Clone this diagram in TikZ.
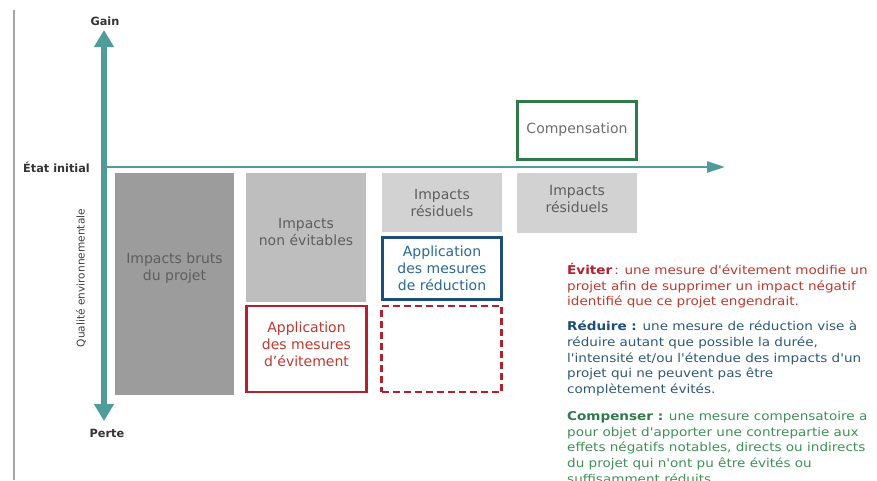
\documentclass[tikz,border=0pt]{standalone}
\usepackage{fontspec}
\setmainfont{DejaVu Sans}
\newfontfamily\deffont[FakeStretch=1.12]{DejaVu Sans}
\usetikzlibrary{arrows.meta}
\definecolor{axisc}{HTML}{4F9C9A}
\definecolor{dgray}{HTML}{9C9C9C}
\definecolor{mgray}{HTML}{BEBEBE}
\definecolor{lgray}{HTML}{D2D2D2}
\definecolor{boxtxt}{HTML}{5E5E5E}
\definecolor{redc}{HTML}{B3202E}
\definecolor{redt}{HTML}{C0392F}
\definecolor{bluec}{HTML}{1D4E78}
\definecolor{bluet}{HTML}{2A6996}
\definecolor{greenc}{HTML}{2F7A4A}
\definecolor{greent}{HTML}{3F9155}
\definecolor{bluebody}{HTML}{2E5A7A}
\begin{document}
\begin{tikzpicture}[x=1pt,y=-1pt,
  lbl/.style={font=\fontsize{14}{17}\selectfont, text=boxtxt, align=center, inner sep=0pt},
  graybox/.style={rectangle, inner sep=0pt, draw=none},
  framebox/.style={rectangle, inner sep=0pt, fill=white, line width=2.6pt},
  axislab/.style={font=\fontsize{11.3}{12}\selectfont\bfseries, text=black!80, inner sep=0pt},
  defs/.style={font=\deffont\fontsize{12.1}{15.7}\selectfont, align=left, anchor=north west, inner sep=0pt}
]
\useasboundingbox (0,0) rectangle (877,480);
\fill[white] (0,0) rectangle (877,480);
% left frame line
\coordinate (lt) at (14,10);
\coordinate (lb) at (14,480);
\draw[black!35, line width=1.5pt] (lt) -- (lb);

% gray boxes
\node[graybox, fill=dgray, minimum width=119pt, minimum height=222pt] (b1) at (174.5,284) {};
\node[lbl] at (174.5,268.5) {Impacts bruts\\du projet};
\node[graybox, fill=mgray, minimum width=120pt, minimum height=129pt] (b2) at (306,237.5) {};
\node[lbl] at (306,231.5) {Impacts\\non évitables};
\node[graybox, fill=lgray, minimum width=120pt, minimum height=59pt] (b4) at (442,202.5) {};
\node[lbl] at (442,202.5) {Impacts\\résiduels};
\node[graybox, fill=lgray, minimum width=120pt, minimum height=60pt] (b7) at (577,203) {};
\node[lbl] at (577,198.5) {Impacts\\résiduels};

% framed boxes
\node[framebox, draw=redc, minimum width=120pt, minimum height=86pt] (b3) at (306.5,349) {};
\node[lbl, text=redt] at (306.5,344.5) {Application\\des mesures\\d'évitement};
\node[framebox, draw=bluec, minimum width=119pt, minimum height=62pt] (b5) at (442,268.5) {};
\node[lbl, text=bluet] at (442,268) {Application\\des mesures\\de réduction};
\node[framebox, draw=redc, dash pattern=on 7pt off 4pt, minimum width=120pt, minimum height=86pt] (b6) at (441.5,349) {};
\node[framebox, draw=greenc, minimum width=119pt, minimum height=58pt] (b8) at (577,130.5) {};
\node[lbl, text=boxtxt!90] at (577,130) {Compensation};

% axes
\coordinate (o) at (104,167);
\coordinate (htip) at (725,167);
\coordinate (vtop) at (104,30);
\coordinate (vbot) at (104,421);
\draw[axisc, line width=2.6pt, -{Triangle[length=18pt,width=11pt]}] (o) -- (htip);
\draw[axisc, line width=6pt, {Triangle[length=17pt,width=19pt]}-{Triangle[length=17pt,width=19pt]}] (vbot) -- (vtop);

% axis labels
\node[axislab] (gain) at (105,21) {Gain};
\node[axislab] (perte) at (107,433) {Perte};
\node[axislab, anchor=west] (etat) at (23,167) {État initial};
\node[font=\fontsize{10.6}{12}\selectfont, text=black!75, rotate=90, inner sep=0pt] (qual) at (81,278) {Qualité environnementale};

% definitions
\node[defs, text=redt] (d1) at (567,263) {\textcolor{redc}{\bfseries Éviter}\,: une mesure d'évitement modifie un\\projet afin de supprimer un impact négatif\\identifié que ce projet engendrait.};
\node[defs, text=bluebody] (d2) at (567,321) {\textcolor{bluec}{\bfseries Réduire :} une mesure de réduction vise à\\réduire autant que possible la durée,\\l'intensité et/ou l'étendue des impacts d'un\\projet qui ne peuvent pas être\\complètement évités.};
\node[defs, text=greent] (d3) at (567,411) {\textcolor{greenc}{\bfseries Compenser :} une mesure compensatoire a\\pour objet d'apporter une contrepartie aux\\effets négatifs notables, directs ou indirects\\du projet qui n'ont pu être évités ou\\suffisamment réduits.};
\end{tikzpicture}
\end{document}
